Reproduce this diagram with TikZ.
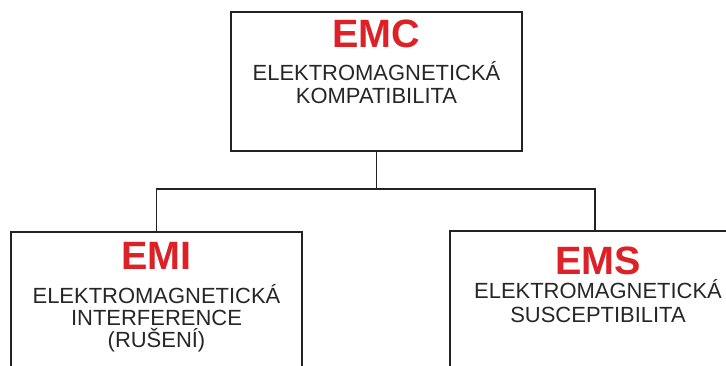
\documentclass[tikz,border=0pt]{standalone}
\usepackage{fontspec}
\setmainfont{Liberation Sans}
\usetikzlibrary{positioning,calc}
\definecolor{emcred}{RGB}{220,34,38}
\definecolor{linegray}{RGB}{35,35,35}

\begin{document}
\begin{tikzpicture}[
  x=0.02cm, y=-0.02cm,
  line width=1.1pt,
  box/.style={draw=linegray,minimum width=5.82cm,minimum height=2.78cm,inner sep=0pt},
  title/.style={text=emcred,font=\bfseries\fontsize{22.5}{24}\selectfont,inner sep=0pt},
  body/.style={text=black!85,font=\fontsize{12.5}{13.2}\selectfont,align=center,inner sep=0pt},
  link/.style={draw=linegray}
]%
  \clip (0,0) rectangle (726,365);

  % boxes
  \node[box] (emc) at (376.5,81.5) {};
  \node[box] (emi) at (156.5,301.5) {};
  \node[box] (ems) at (595,300.5) {};

  % texts
  \node[title,below=0.15cm of emc.north] (emcT) {EMC};
  \node[body,below=0.24cm of emcT] (emcB) {ELEKTROMAGNETICKÁ\\KOMPATIBILITA};

  \node[title,below=0.21cm of emi.north] (emiT) {EMI};
  \node[body,below=0.26cm of emiT,font=\fontsize{12.5}{12.4}\selectfont] (emiB) {ELEKTROMAGNETICKÁ\\INTERFERENCE\\(RUŠENÍ)};

  \node[title,below=0.31cm of ems.north,xshift=0.06cm] (emsT) {EMS};
  \node[body,below=0.07cm of emsT] (emsB) {ELEKTROMAGNETICKÁ\\SUSCEPTIBILITA};

  % connectors
  \coordinate (bus) at (376.5,189);
  \draw[link] (emc.south) -- (bus);
  \draw[link] (emi.north) |- (bus) -| (ems.north);

\end{tikzpicture}
\end{document}
